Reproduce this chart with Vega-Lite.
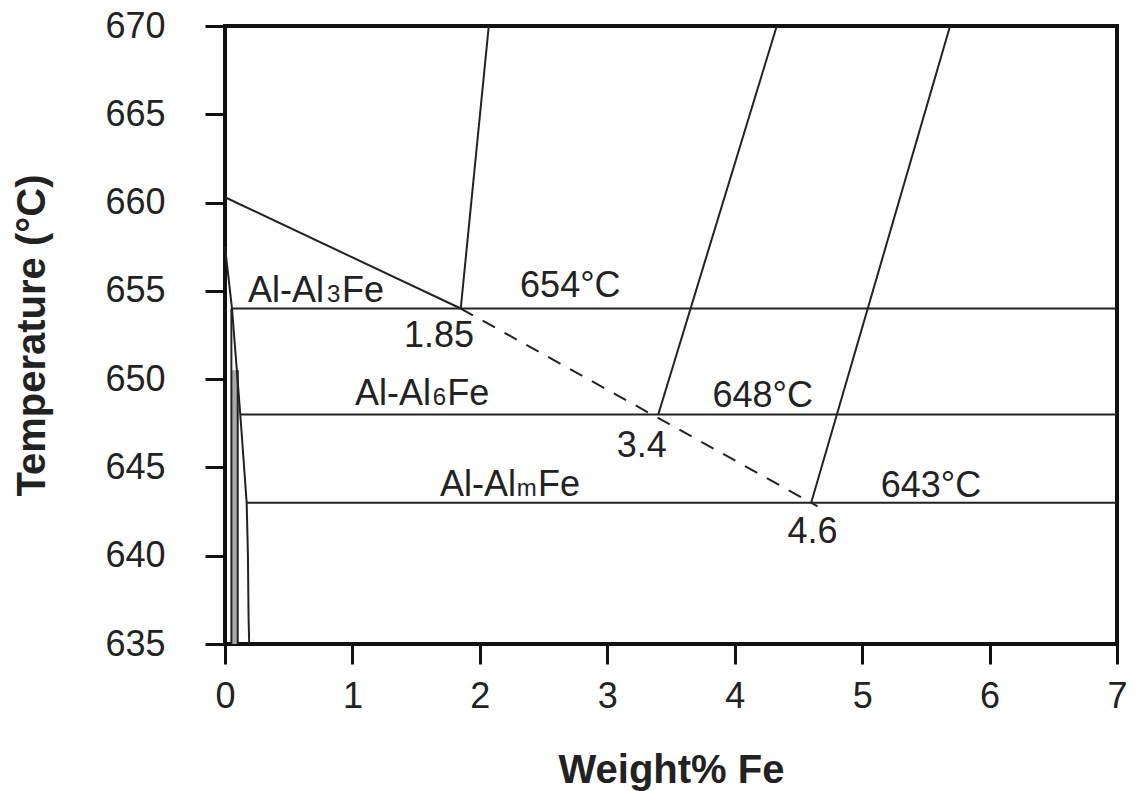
{
  "$schema": "https://vega.github.io/schema/vega-lite/v6.json",
  "width": 892,
  "height": 618,
  "autosize": {"type": "none"},
  "padding": {"left": 225, "top": 26, "right": 23, "bottom": 147},
  "background": "white",
  "config": {
    "view": {"stroke": "#111", "strokeWidth": 4},
    "font": "Liberation Sans",
    "axis": {
      "grid": false,
      "domain": false,
      "tickColor": "#111",
      "tickWidth": 3,
      "tickSize": 20,
      "labelFlush": false,
      "labelFont": "Liberation Sans",
      "labelFontSize": 36,
      "labelColor": "#222",
      "titleFont": "Liberation Sans",
      "titleFontSize": 40,
      "titleFontWeight": "bold",
      "titleColor": "#222"
    }
  },
  "datasets": {
    "solid": [
      {"s": "liquidus", "o": 1, "x": 0, "y": 660.3},
      {"s": "liquidus", "o": 2, "x": 1.85, "y": 654},
      {"s": "p1", "o": 1, "x": 1.85, "y": 654},
      {"s": "p1", "o": 2, "x": 2.07, "y": 670},
      {"s": "p2", "o": 1, "x": 3.4, "y": 648},
      {"s": "p2", "o": 2, "x": 4.33, "y": 670},
      {"s": "p3", "o": 1, "x": 4.6, "y": 643},
      {"s": "p3", "o": 2, "x": 5.69, "y": 670},
      {"s": "h654", "o": 1, "x": 0.06, "y": 654},
      {"s": "h654", "o": 2, "x": 7, "y": 654},
      {"s": "h648", "o": 1, "x": 0.12, "y": 648},
      {"s": "h648", "o": 2, "x": 7, "y": 648},
      {"s": "h643", "o": 1, "x": 0.17, "y": 643},
      {"s": "h643", "o": 2, "x": 7, "y": 643},
      {"s": "solvus", "o": 1, "x": 0, "y": 657.5},
      {"s": "solvus", "o": 2, "x": 0.055, "y": 654},
      {"s": "solvus", "o": 3, "x": 0.12, "y": 648},
      {"s": "solvus", "o": 4, "x": 0.17, "y": 643},
      {"s": "solvus", "o": 5, "x": 0.18, "y": 640},
      {"s": "solvus", "o": 6, "x": 0.185, "y": 636.5},
      {"s": "solvus", "o": 7, "x": 0.19, "y": 635},
      {"s": "inner", "o": 1, "x": 0.1, "y": 650.5},
      {"s": "inner", "o": 2, "x": 0.1, "y": 635},
      {"s": "inner2", "o": 1, "x": 0.05, "y": 654},
      {"s": "inner2", "o": 2, "x": 0.05, "y": 635}
    ],
    "dashed": [
      {"s": "metastable", "o": 1, "x": 1.85, "y": 654},
      {"s": "metastable", "o": 2, "x": 4.65, "y": 642.8}
    ],
    "fills": [
      {"x": 0.05, "x2": 0.1, "y": 635, "y2": 650.5}
    ],
    "numlabels": [
      {"t": "654°C", "x": 2.71, "y": 654.65},
      {"t": "648°C", "x": 4.22, "y": 648.43},
      {"t": "643°C", "x": 5.54, "y": 643.33},
      {"t": "1.85", "x": 1.68, "y": 651.8},
      {"t": "3.4", "x": 3.27, "y": 645.6},
      {"t": "4.6", "x": 4.61, "y": 640.7}
    ],
    "phase": [
      {"t": "Al-Al", "x": 0.18, "y": 654.37},
      {"t": "Fe", "x": 0.918, "y": 654.37},
      {"t": "Al-Al", "x": 1.02, "y": 648.54},
      {"t": "Fe", "x": 1.745, "y": 648.54},
      {"t": "Al-Al", "x": 1.688, "y": 643.4},
      {"t": "Fe", "x": 2.457, "y": 643.4}
    ],
    "subs": [
      {"t": "3", "x": 0.8, "y": 654.37},
      {"t": "6", "x": 1.63, "y": 648.54},
      {"t": "m", "x": 2.29, "y": 643.4}
    ]
  },
  "layer": [
    {
      "data": {"name": "fills"},
      "mark": {"type": "rect", "color": "#a8a8a8"},
      "encoding": {
        "x": {"field": "x", "type": "quantitative", "scale": {"domain": [0, 7], "nice": false, "zero": false},
              "axis": {"values": [0, 1, 2, 3, 4, 5, 6, 7], "format": "d", "title": "Weight% Fe", "labelPadding": 15, "titlePadding": 36}},
        "x2": {"field": "x2"},
        "y": {"field": "y", "type": "quantitative", "scale": {"domain": [635, 670], "nice": false, "zero": false},
              "axis": {"values": [635, 640, 645, 650, 655, 660, 665, 670], "format": "d", "title": "Temperature (°C)", "labelPadding": 40, "titlePadding": 52}},
        "y2": {"field": "y2"}
      }
    },
    {
      "data": {"name": "solid"},
      "mark": {"type": "line", "color": "#222", "strokeWidth": 2},
      "encoding": {
        "x": {"field": "x", "type": "quantitative"},
        "y": {"field": "y", "type": "quantitative"},
        "detail": {"field": "s"},
        "order": {"field": "o", "type": "quantitative"}
      }
    },
    {
      "data": {"name": "dashed"},
      "mark": {"type": "line", "color": "#222", "strokeWidth": 2, "strokeDash": [14, 11]},
      "encoding": {
        "x": {"field": "x", "type": "quantitative"},
        "y": {"field": "y", "type": "quantitative"},
        "detail": {"field": "s"},
        "order": {"field": "o", "type": "quantitative"}
      }
    },
    {
      "data": {"name": "numlabels"},
      "mark": {"type": "text", "fontSize": 36, "align": "center", "baseline": "alphabetic", "color": "#222"},
      "encoding": {
        "x": {"field": "x", "type": "quantitative"},
        "y": {"field": "y", "type": "quantitative"},
        "text": {"field": "t"}
      }
    },
    {
      "data": {"name": "phase"},
      "mark": {"type": "text", "fontSize": 36, "align": "left", "baseline": "alphabetic", "color": "#222"},
      "encoding": {
        "x": {"field": "x", "type": "quantitative"},
        "y": {"field": "y", "type": "quantitative"},
        "text": {"field": "t"}
      }
    },
    {
      "data": {"name": "subs"},
      "mark": {"type": "text", "fontSize": 24, "align": "left", "baseline": "alphabetic", "color": "#222"},
      "encoding": {
        "x": {"field": "x", "type": "quantitative"},
        "y": {"field": "y", "type": "quantitative"},
        "text": {"field": "t"}
      }
    }
  ]
}
